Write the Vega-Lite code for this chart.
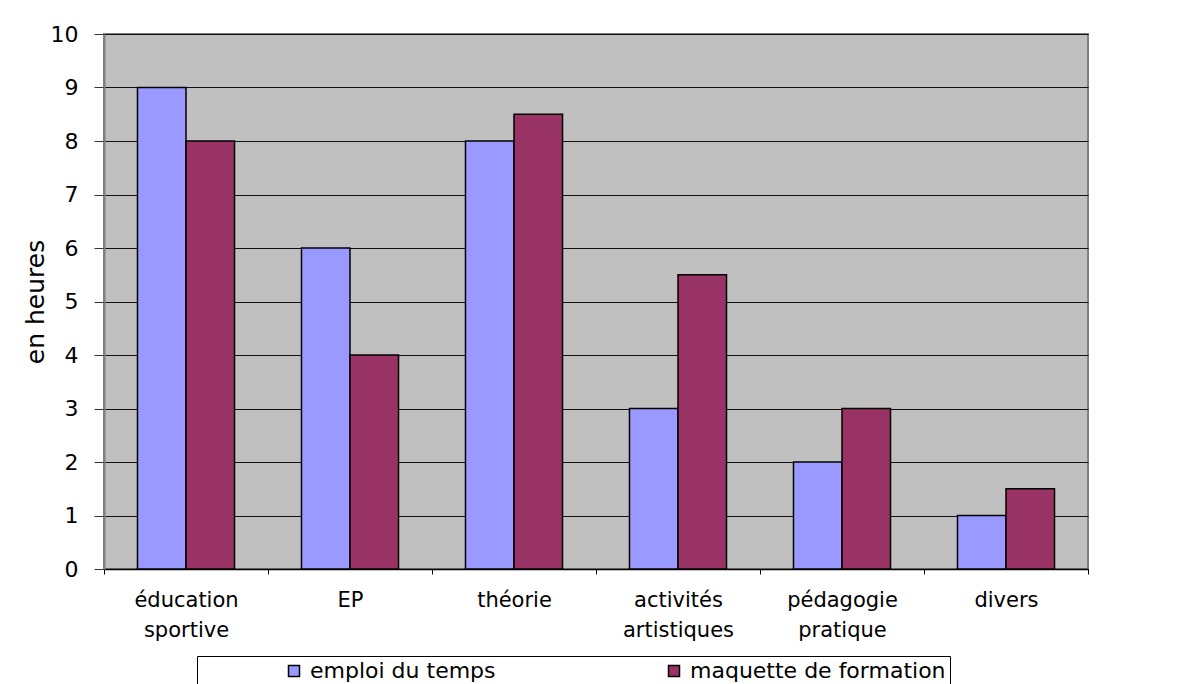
{
  "$schema": "https://vega.github.io/schema/vega-lite/v6.json",
  "width": 984,
  "height": 535,
  "autosize": {"type": "none"},
  "padding": {"left": 104, "top": 34, "right": 96, "bottom": 115},
  "background": "white",
  "config": {
    "font": "DejaVu Sans",
    "view": {"fill": "#C0C0C0", "stroke": "#808080", "strokeWidth": 2}
  },
  "data": {
    "values": [
      {"cat": "éducation sportive", "serie": "emploi du temps", "h": 9},
      {"cat": "éducation sportive", "serie": "maquette de formation", "h": 8},
      {"cat": "EP", "serie": "emploi du temps", "h": 6},
      {"cat": "EP", "serie": "maquette de formation", "h": 4},
      {"cat": "théorie", "serie": "emploi du temps", "h": 8},
      {"cat": "théorie", "serie": "maquette de formation", "h": 8.5},
      {"cat": "activités artistiques", "serie": "emploi du temps", "h": 3},
      {"cat": "activités artistiques", "serie": "maquette de formation", "h": 5.5},
      {"cat": "pédagogie pratique", "serie": "emploi du temps", "h": 2},
      {"cat": "pédagogie pratique", "serie": "maquette de formation", "h": 3},
      {"cat": "divers", "serie": "emploi du temps", "h": 1},
      {"cat": "divers", "serie": "maquette de formation", "h": 1.5}
    ]
  },
  "mark": {"type": "bar", "stroke": "black", "strokeWidth": 1.5},
  "encoding": {
    "x": {
      "field": "cat",
      "type": "nominal",
      "sort": null,
      "scale": {"paddingInner": 0, "paddingOuter": 0},
      "axis": {
        "title": null,
        "labelAngle": 0,
        "labelExpr": "isString(datum.value) ? split(datum.value, ' ') : ''",
        "labelFontSize": 21,
        "labelColor": "black",
        "labelLineHeight": 30,
        "labelPadding": 15,
        "tickBand": "extent",
        "tickSize": 5,
        "tickColor": "black",
        "domainColor": "black",
        "domainWidth": 1.5,
        "grid": false,
        "labelLimit": 300
      }
    },
    "xOffset": {
      "field": "serie",
      "type": "nominal",
      "scale": {"paddingOuter": 0.69, "paddingInner": 0}
    },
    "y": {
      "field": "h",
      "type": "quantitative",
      "scale": {"domain": [0, 10], "nice": false},
      "axis": {
        "title": "en heures",
        "titleFontSize": 25,
        "titleFontWeight": "normal",
        "titleColor": "black",
        "titlePadding": 2,
        "values": [0, 1, 2, 3, 4, 5, 6, 7, 8, 9, 10],
        "labelFontSize": 22,
        "labelColor": "black",
        "labelPadding": 16,
        "tickSize": 10,
        "tickColor": "#333333",
        "grid": true,
        "gridColor": "#111111",
        "gridWidth": 1,
        "gridOpacity": 1,
        "domainColor": "#808080",
        "domainWidth": 2
      }
    },
    "color": {
      "field": "serie",
      "type": "nominal",
      "scale": {
        "domain": ["emploi du temps", "maquette de formation"],
        "range": ["#9999FF", "#993366"]
      },
      "legend": {
        "title": null,
        "orient": "none",
        "legendX": 93,
        "legendY": 622,
        "direction": "horizontal",
        "columns": 2,
        "strokeColor": "black",
        "fillColor": "white",
        "padding": 4,
        "symbolType": "square",
        "symbolSize": 121,
        "symbolStrokeColor": "black",
        "symbolStrokeWidth": 1.5,
        "symbolOpacity": 1,
        "symbolOffset": 82,
        "labelFontSize": 22,
        "labelColor": "black",
        "labelOffset": 5,
        "columnPadding": 85,
        "labelLimit": 500
      }
    }
  }
}
